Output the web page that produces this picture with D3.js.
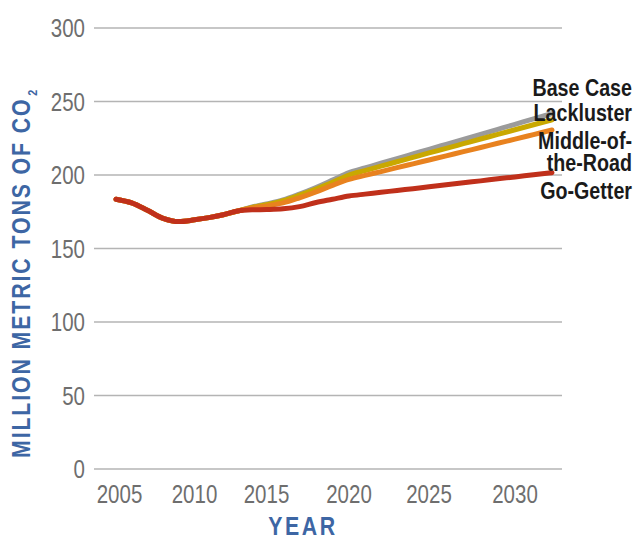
<!DOCTYPE html>
<html>
<head>
<meta charset="utf-8">
<script src="https://cdn.jsdelivr.net/npm/d3@7"></script>
<style>
  html, body { margin: 0; padding: 0; background: #fff; }
  svg { display: block; }
</style>
</head>
<body>
<svg id="chart" width="636" height="538"></svg>
<script>
// ---- data ----
const years = [2005, 2006, 2007, 2008, 2009, 2010, 2011, 2012, 2013, 2014, 2015, 2016, 2017, 2018,
  2019, 2020, 2021, 2022, 2023, 2024, 2025, 2026, 2027, 2028, 2029, 2030, 2031, 2032];
// historical 2005-2012 (shared)
const historical = [183.5, 181, 176, 170.5, 168.3, 169.5, 171, 173];
// projections 2013-2032
const baseCase   = [175.5, 178.2, 180.3, 183, 187, 191.5, 196.5, 201.6, 204.8, 208, 211.1, 214.3, 217.5, 220.9, 224.3, 227.7, 231.1, 234.5, 238.2, 241.8];
const lackluster = [175.5, 178, 179.8, 182.5, 186.3, 190.5, 195, 200, 203, 206, 209, 212, 215, 218.1, 221.3, 224.5, 227.6, 230.8, 234.2, 237.5];
const middleRoad = [175.5, 177.5, 179, 181, 184.5, 188.5, 193, 197, 199.7, 202.3, 205, 207.6, 210.2, 213, 215.9, 218.7, 221.6, 224.4, 227.5, 230.6];
const goGetter   = [175.5, 176.3, 176.5, 177, 178.5, 181.3, 183.5, 185.7, 187, 188.2, 189.5, 190.7, 192, 193.3, 194.7, 196, 197.4, 198.7, 200.2, 201.6];

const seriesNames  = ["Base Case", "Lackluster", "Middle-of-the-Road", "Go-Getter"];
const seriesColors = ["#9b9b9b", "#c9a800", "#e8821f", "#c0301b"];
const xTicks = [2005, 2010, 2015, 2020, 2025, 2030];
const yTicks = [0, 50, 100, 150, 200, 250, 300];
const labelLines = [["Base Case"], ["Lackluster"], ["Middle-of-", "the-Road"], ["Go-Getter"]];

// ---- layout ----
const svg = d3.select("#chart");
const grid = { x0: 94, x1: 562 };
const x = d3.scaleLinear()
  .domain([2005, 2010, 2015, 2020, 2025, 2030, 2032])
  .range([116, 194.5, 266.5, 349, 429, 515, 552]);
const y = d3.scaleLinear().domain([0, 300]).range([469, 28]);

const series = [baseCase, lackluster, middleRoad, goGetter].map((p, i) => ({
  name: seriesNames[i],
  color: seriesColors[i],
  values: historical.concat(p).map((v, j) => ({ year: years[j], value: v }))
}));

const font = "'Liberation Sans', Arial, sans-serif";
const NARROW = 0.82; // horizontal condensing

// gridlines
const yAxis = svg.append("g");
yAxis.selectAll("line").data(yTicks).join("line")
  .attr("x1", grid.x0).attr("x2", grid.x1)
  .attr("y1", d => y(d)).attr("y2", d => y(d))
  .attr("stroke", "#b4b4b4").attr("stroke-width", 1.6);
// y labels
yAxis.selectAll("text").data(yTicks).join("text")
  .attr("transform", d => `translate(85,${y(d)}) scale(${NARROW},1)`)
  .attr("dy", "0.36em")
  .attr("text-anchor", "end")
  .attr("font-family", font).attr("font-size", 25)
  .attr("fill", "#6e6e6e")
  .text(d => d);

// x labels
svg.append("g").selectAll("text").data(xTicks).join("text")
  .attr("transform", d => `translate(${x(d) + (d === 2005 ? 3.5 : 0)},503) scale(${NARROW},1)`)
  .attr("text-anchor", "middle")
  .attr("font-family", font).attr("font-size", 25)
  .attr("fill", "#6e6e6e")
  .text(d => d);

// lines
const line = d3.line()
  .x(d => x(d.year)).y(d => y(d.value))
  .curve(d3.curveMonotoneX);
svg.append("g").selectAll("path").data(series).join("path")
  .attr("d", d => line(d.values))
  .attr("fill", "none")
  .attr("stroke", d => d.color)
  .attr("stroke-width", 5)
  .attr("stroke-linecap", "round")
  .attr("stroke-linejoin", "round");

// series labels
const labelBase = [96, 121, 149, 199];
const lab = svg.append("g")
  .attr("font-family", font).attr("font-weight", "bold")
  .attr("font-size", 24).attr("fill", "#1a1a1a").attr("text-anchor", "end");
labelLines.forEach((lines, i) => {
  lines.forEach((s, k) => {
    lab.append("text")
      .attr("transform", `translate(632,${labelBase[i] + k * 21.5}) scale(${NARROW},1)`)
      .text(s);
  });
});

// axis titles
const titleColor = "#3d66a4";
svg.append("text")
  .attr("transform", `translate(303,535) scale(${NARROW},1)`)
  .attr("text-anchor", "middle")
  .attr("font-family", font).attr("font-weight", "bold")
  .attr("font-size", 26).attr("letter-spacing", 3.2)
  .attr("fill", titleColor)
  .text("YEAR");

const yt = svg.append("text")
  .attr("transform", `translate(30,458) rotate(-90) scale(${NARROW},1)`)
  .attr("text-anchor", "start")
  .attr("font-family", font).attr("font-weight", "bold")
  .attr("font-size", 26).attr("letter-spacing", 2.3)
  .attr("fill", titleColor);
yt.append("tspan").text("MILLION METRIC TONS OF CO");
yt.append("tspan").attr("font-size", 13).attr("dy", 7).attr("dx", 2).text("2");
</script>
</body>
</html>
